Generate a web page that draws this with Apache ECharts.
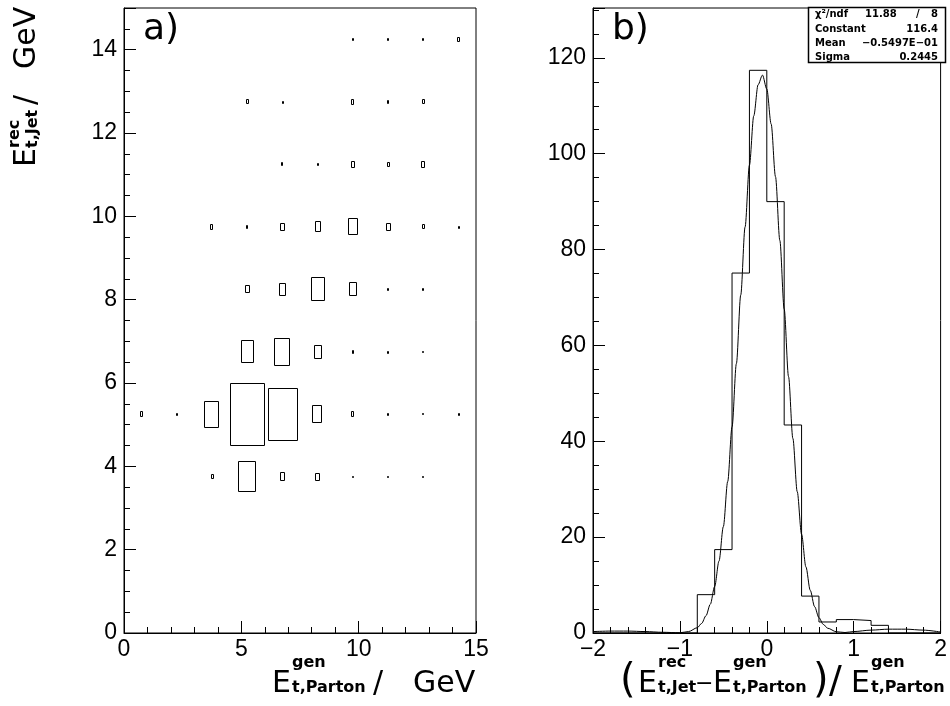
<!DOCTYPE html>
<html>
<head>
<meta charset="utf-8">
<script src="https://cdn.jsdelivr.net/npm/echarts@6/dist/echarts.min.js"></script>
<style>
html,body{margin:0;padding:0;background:#fff;}
#chart{width:950px;height:706px;}
</style>
</head>
<body>
<div id="chart"></div>
<script>
// ---------- Panel a) : 2D box histogram ----------
var boxBinWidth = 1.5;
var boxCentersX = [0.75, 2.25, 3.75, 5.25, 6.75, 8.25, 9.75, 11.25, 12.75, 14.25];
var boxCentersY = [3.75, 5.25, 6.75, 8.25, 9.75, 11.25, 12.75, 14.25];
// relative box size (fraction of the bin), one row per boxCentersY entry
var boxRow375  = [0, 0, 0.08, 0.50, 0.14, 0.13, 0.03, 0.03, 0.03, 0];
var boxRow525  = [0.09, 0.05, 0.43, 1.00, 0.84, 0.29, 0.09, 0.04, 0.03, 0.05];
var boxRow675  = [0, 0, 0, 0.37, 0.45, 0.23, 0.07, 0.04, 0.03, 0];
var boxRow825  = [0, 0, 0, 0.13, 0.20, 0.39, 0.22, 0.04, 0.05, 0];
var boxRow975  = [0, 0, 0.09, 0.06, 0.13, 0.17, 0.27, 0.13, 0.08, 0.04];
var boxRow1125 = [0, 0, 0, 0, 0.07, 0.05, 0.11, 0.08, 0.11, 0];
var boxRow1275 = [0, 0, 0, 0.08, 0.04, 0, 0.09, 0.06, 0.08, 0];
var boxRow1425 = [0, 0, 0, 0, 0, 0, 0.05, 0.05, 0.05, 0.08];
var boxRows = [boxRow375, boxRow525, boxRow675, boxRow825, boxRow975, boxRow1125, boxRow1275, boxRow1425];

// ---------- Panel b) : 1D histogram + fit ----------
var histBinWidth = 0.2;
var histLeftEdges = [-2.0,-1.8,-1.6,-1.4,-1.2,-1.0,-0.8,-0.6,-0.4,-0.2,0.0,0.2,0.4,0.6,0.8,1.0,1.2,1.4,1.6,1.8];
var histCounts    = [0,0,0,0,0,0,8.0,17.4,75.1,117.4,90.0,43.4,7.7,2.3,2.8,2.6,1.6,0,0,0];

var fitX = [-2.0,-1.8,-1.6,-1.4,-1.2,-1.0,-0.9,-0.8,-0.75,-0.7,-0.65,-0.6,-0.55,-0.5,-0.45,-0.4,-0.35,-0.3,-0.25,-0.2,-0.15,-0.1,-0.05,0.0,0.05,0.1,0.15,0.2,0.25,0.3,0.35,0.4,0.45,0.5,0.55,0.6,0.65,0.7,0.8,0.9,1.0,1.2,1.4,1.6,1.8,2.0];
var fitY = [0.3,0.4,0.4,0.3,0.15,0.05,0.3,1.1,2.0,3.6,6.0,9.7,15.0,22.2,31.6,43.0,56.2,70.5,84.7,97.6,107.9,114.4,116.4,113.5,106.2,95.2,81.9,67.6,53.5,40.6,29.5,20.6,13.8,8.9,5.5,3.2,1.8,1.0,0.26,0.1,0.3,0.6,0.8,0.8,0.6,0.2];

var statLabels = ['\u03c7\u00b2/ndf', 'Constant', 'Mean', 'Sigma'];
var statValues = ['8', '116.4', '\u22120.5497E\u221201', '0.2445'];
var chiValue = '11.88';

// tick labels
var ticksAX = [0, 5, 10, 15];
var ticksAY = [0, 2, 4, 6, 8, 10, 12, 14];
var ticksBX = [-2, -1, 0, 1, 2];
var ticksBY = [0, 20, 40, 60, 80, 100, 120];

// ---------- build data ----------
var boxData = [];
for (var r = 0; r < boxCentersY.length; r++) {
  for (var c = 0; c < boxCentersX.length; c++) {
    if (boxRows[r][c] > 0) boxData.push([boxCentersX[c], boxCentersY[r], boxRows[r][c]]);
  }
}
var histData = histLeftEdges.map(function (e, i) { return [e, histCounts[i]]; });
histData.push([histLeftEdges[histLeftEdges.length - 1] + histBinWidth, 0]);
var fitData = fitX.map(function (x, i) { return [x, fitY[i]]; });

function fmtMinus(v) { return v < 0 ? '\u2212' + Math.abs(v) : String(v); }
function onlyTicks(list) {
  return function (v) {
    for (var i = 0; i < list.length; i++) if (Math.abs(list[i] - v) < 1e-6) return fmtMinus(list[i]);
    return '';
  };
}

var FRAME = '#000';
var labelFont = 'Liberation Sans';
function majorAxis(extra) {
  var o = {
    type: 'value',
    axisLine: { show: true, onZero: false, lineStyle: { color: FRAME, width: 1 } },
    axisTick: { show: true, inside: true, length: 12, lineStyle: { color: FRAME, width: 1 } },
    axisLabel: { color: '#000', fontFamily: labelFont, fontSize: 23 },
    splitLine: { show: false }
  };
  for (var k in extra) o[k] = extra[k];
  return o;
}
function minorAxis(extra) {
  var o = {
    type: 'value',
    axisLine: { show: false, onZero: false },
    axisTick: { show: true, inside: true, length: 6, lineStyle: { color: FRAME, width: 1 } },
    axisLabel: { show: false },
    splitLine: { show: false }
  };
  for (var k in extra) o[k] = extra[k];
  return o;
}

// ---------- graphic text helpers ----------
var mainFont = 'DejaVu Sans';
function txt(s, x, y, size, weight, align, family) {
  return {
    type: 'text', x: x, y: y, silent: true,
    style: {
      text: s, fill: '#000',
      font: (weight || 'normal') + ' ' + size + 'px "' + (family || mainFont) + '"',
      textAlign: align || 'left', textVerticalAlign: 'middle',
      align: align || 'left', verticalAlign: 'middle'
    }
  };
}
// E with superscript/subscript, anchored at left x, middle y of main letter
function eSym(x, y, sup, sub, size, subSize, supDy, subDy, subDx) {
  return [
    txt('E', x, y, size),
    txt(sup, x + subDx, y + supDy, subSize, 'bold'),
    txt(sub, x + subDx, y + subDy, subSize, 'bold')
  ];
}

var gfx = [];
// panel labels
gfx.push(txt('a)', 143, 30, 36));
gfx.push(txt('b)', 612, 30, 36));
// x title of panel a
gfx = gfx.concat(eSym(272, 684, 'gen', 't,Parton', 30, 16, -21, 4, 20));
gfx.push(txt('/', 373, 684, 30));
gfx.push(txt('GeV', 413, 684, 30));
// x title of panel b
gfx.push(txt('(', 620, 682, 40));
gfx = gfx.concat(eSym(638, 684, 'rec', 't,Jet', 30, 16, -21, 4, 20));
gfx.push(txt('\u2212', 695, 684, 22));
gfx = gfx.concat(eSym(713, 684, 'gen', 't,Parton', 30, 16, -21, 4, 20));
gfx.push(txt(')', 813, 682, 40));
gfx.push(txt('/', 829, 682, 38));
gfx = gfx.concat(eSym(851, 684, 'gen', 't,Parton', 30, 16, -21, 4, 20));
// y title of panel a (rotated)
var yTitleChildren = [];
yTitleChildren = yTitleChildren.concat(eSym(0, 0, 'rec', 't,Jet', 30, 16, -12, 6, 19));
yTitleChildren.push(txt('/', 62, 0, 30));
yTitleChildren.push(txt('GeV', 98, 0, 30));
gfx.push({ type: 'group', x: 27, y: 167, rotation: Math.PI / 2, children: yTitleChildren });

// stats box
gfx.push({
  type: 'rect', shape: { x: 808.5, y: 7.5, width: 137, height: 55 },
  style: { fill: '#fff', stroke: '#000', lineWidth: 1.5 }, z: 10
});
var statY = [14, 29, 43.5, 57.5];
for (var i = 0; i < statLabels.length; i++) {
  var t = txt(statLabels[i], 815, statY[i], 10, 'bold'); t.z = 11; gfx.push(t);
  var v = txt(statValues[i], 938, statY[i], 10, 'bold', 'right'); v.z = 11; gfx.push(v);
}
var cv = txt(chiValue, 865, statY[0], 10, 'bold'); cv.z = 11; gfx.push(cv);
var sl = txt('/', 916, statY[0], 10, 'bold'); sl.z = 11; gfx.push(sl);

var chart = echarts.init(document.getElementById('chart'), null, { renderer: 'canvas' });
chart.setOption({
  animation: false,
  backgroundColor: '#fff',
  grid: [
    { left: 124, top: 8, width: 352, height: 625, show: true, borderColor: FRAME, borderWidth: 1, backgroundColor: 'transparent' },
    { left: 593, top: 8, width: 352, height: 625, show: true, borderColor: FRAME, borderWidth: 1, backgroundColor: 'transparent' }
  ],
  xAxis: [
    majorAxis({ gridIndex: 0, position: 'bottom', min: 0, max: 15, interval: 5,
      axisLabel: { color: '#000', fontFamily: labelFont, fontSize: 23, margin: 5, formatter: onlyTicks(ticksAX) } }),
    minorAxis({ gridIndex: 0, position: 'bottom', min: 0, max: 15, interval: 1 }),
    majorAxis({ gridIndex: 1, position: 'bottom', min: -2, max: 2, interval: 1,
      axisLabel: { color: '#000', fontFamily: labelFont, fontSize: 23, margin: 5, formatter: onlyTicks(ticksBX) } }),
    minorAxis({ gridIndex: 1, position: 'bottom', min: -2, max: 2, interval: 0.2 })
  ],
  yAxis: [
    majorAxis({ gridIndex: 0, position: 'left', min: 0, max: 15, interval: 2,
      axisLabel: { color: '#000', fontFamily: labelFont, fontSize: 23, margin: 7, formatter: onlyTicks(ticksAY) } }),
    minorAxis({ gridIndex: 0, position: 'left', min: 0, max: 15, interval: 0.5 }),
    majorAxis({ gridIndex: 1, position: 'left', min: 0, max: 130.4, interval: 20,
      axisLabel: { color: '#000', fontFamily: labelFont, fontSize: 23, margin: 7, formatter: onlyTicks(ticksBY) } }),
    minorAxis({ gridIndex: 1, position: 'left', min: 0, max: 130.4, interval: 5 })
  ],
  graphic: { elements: gfx },
  series: [
    {
      type: 'custom', xAxisIndex: 0, yAxisIndex: 0, data: boxData, silent: true,
      renderItem: function (params, api) {
        var p = api.coord([api.value(0), api.value(1)]);
        var s = api.size([boxBinWidth, boxBinWidth]);
        var f = api.value(2);
        var w = Math.max(s[0] * f, 1.5), h = Math.max(s[1] * f, 1.5);
        var x0 = Math.round(p[0] - w / 2) + 0.5, y0 = Math.round(p[1] - h / 2) + 0.5;
        return {
          type: 'rect',
          shape: { x: x0, y: y0, width: Math.max(Math.round(w) - 1, 1), height: Math.max(Math.round(h) - 1, 1) },
          style: { fill: 'none', stroke: '#000', lineWidth: 1 }
        };
      }
    },
    {
      type: 'line', xAxisIndex: 2, yAxisIndex: 2, data: histData, step: 'end',
      symbol: 'none', silent: true, lineStyle: { color: '#000', width: 1 }
    },
    {
      type: 'line', xAxisIndex: 2, yAxisIndex: 2, data: fitData, smooth: 0.3, smoothMonotone: 'x',
      symbol: 'none', silent: true, lineStyle: { color: '#000', width: 1 }
    }
  ]
});
</script>
</body>
</html>
